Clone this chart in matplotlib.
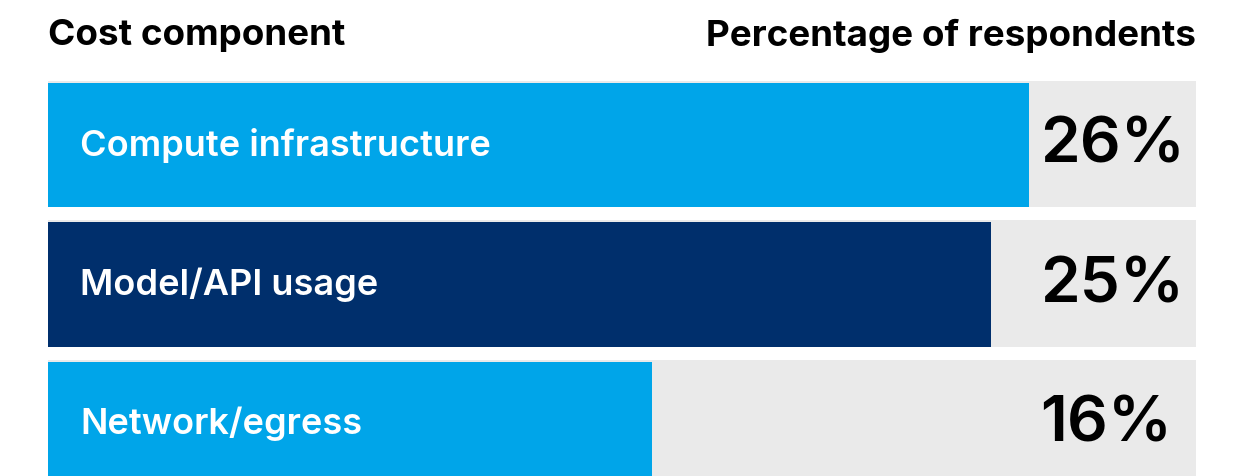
import numpy as np
import matplotlib
matplotlib.use('Agg')
import matplotlib.pyplot as plt
import matplotlib.transforms as mtransforms

categories = ['Compute infrastructure', 'Model/API usage', 'Network/egress']
values = [26, 25, 16]
bar_colors = ['#00A5E9', '#002F6C', '#00A5E9']
header_left = 'Cost component'
header_right = 'Percentage of respondents'

plt.rcParams['font.family'] = ['Inter', 'DejaVu Sans']

fig = plt.figure(figsize=(12.5, 4.77), dpi=100)
W, H = 1250, 477
# axes: x from 48 to 1196 px, y from 75 px (top) to bottom of figure
ax = fig.add_axes([48 / W, 0, 1148 / W, (H - 75) / H])

xmax = 30.43
y = np.arange(len(categories))
# gray background track
ax.barh(y, [xmax] * len(categories), height=0.905, color='#EAEAEA', edgecolor='none')
ax.barh(y + 0.008, values, height=0.893, color=bar_colors, edgecolor='none')

ax.set_xlim(0, xmax)
ax.set_ylim(2.38, -0.502)
ax.axis('off')

trans = mtransforms.blended_transform_factory(ax.transAxes, ax.transData)
for i, (cat, v) in enumerate(zip(categories, values)):
    ax.text(0.028, i, cat, transform=trans, color='white', fontsize=26,
            fontweight='semibold', va='center', ha='left')
    ax.text(0.864, i + 0.01, f'{v}%', transform=trans, color='black', fontsize=46,
            fontweight='semibold', va='center', ha='left')

fig.text(48 / W, 1 - 36 / H, header_left, fontsize=26.5, fontweight='bold',
         va='center', ha='left')
fig.text(1196 / W, 1 - 36 / H, header_right, fontsize=26.5, fontweight='bold',
         va='center', ha='right')

fig.savefig('out.png', dpi=100)
